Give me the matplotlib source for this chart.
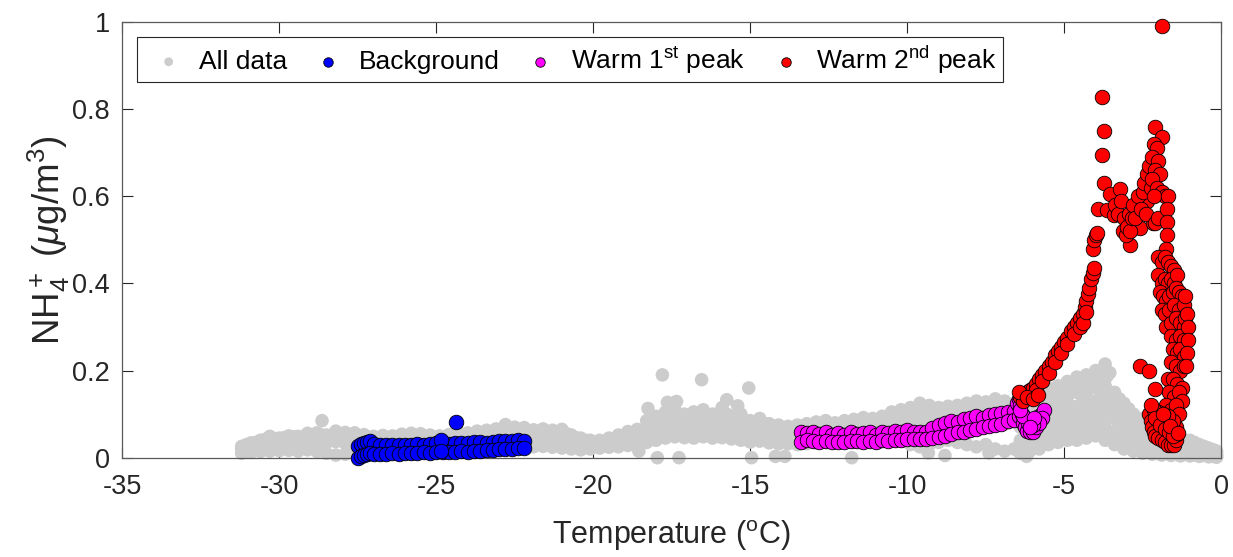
import numpy as np
import matplotlib.pyplot as plt

plt.rcParams['font.family'] = ['Liberation Sans', 'DejaVu Sans']
plt.rcParams['mathtext.fontset'] = 'custom'
plt.rcParams['mathtext.rm'] = 'Liberation Sans'
plt.rcParams['mathtext.it'] = 'Liberation Sans:italic'
plt.rcParams['mathtext.bf'] = 'Liberation Sans:bold'
plt.rcParams['axes.unicode_minus'] = False

# ---- All data (gray cloud) ----
# cold part, -31 .. -20 C
cold_t = [-31.2, -30.9, -30.6, -30.3, -30.0, -29.7, -29.4, -29.1, -28.8, -28.5,
          -28.2, -27.9, -27.6, -27.3, -27.0, -26.7, -26.4, -26.1, -25.8, -25.5,
          -25.2, -24.9, -24.6, -24.3, -24.0, -23.7, -23.4, -23.1, -22.8, -22.5,
          -22.2, -21.9, -21.6, -21.3, -21.0, -20.7, -20.4, -20.1]
cold_hi = [0.026, 0.034, 0.040, 0.049, 0.045, 0.050, 0.049, 0.056, 0.057, 0.052,
           0.061, 0.058, 0.057, 0.053, 0.049, 0.051, 0.050, 0.054, 0.056, 0.055,
           0.052, 0.050, 0.053, 0.058, 0.057, 0.061, 0.063, 0.066, 0.076, 0.070,
           0.069, 0.064, 0.066, 0.063, 0.065, 0.052, 0.045, 0.040]
cold_mid = [0.020, 0.025, 0.028, 0.030, 0.032, 0.033, 0.035, 0.036, 0.038, 0.034,
            0.037, 0.033, 0.030, 0.028, 0.030, 0.032, 0.030, 0.033, 0.034, 0.035,
            0.036, 0.034, 0.036, 0.038, 0.040, 0.042, 0.043, 0.045, 0.048, 0.046,
            0.045, 0.043, 0.044, 0.041, 0.040, 0.036, 0.033, 0.030]
cold_lo = [0.010, 0.012, 0.014, 0.015, 0.016, 0.017, 0.015, 0.018, 0.014, 0.010,
           0.006, 0.008, 0.012, 0.014, 0.012, 0.015, 0.016, 0.014, 0.015, 0.017,
           0.018, 0.017, 0.019, 0.020, 0.022, 0.024, 0.025, 0.026, 0.027, 0.026,
           0.028, 0.025, 0.026, 0.024, 0.022, 0.020, 0.018, 0.020]
cold2_t = [-31.05, -30.75, -30.45, -30.15, -29.85, -29.55, -29.25, -28.95, -28.65,
           -28.35, -28.05, -27.75, -27.45, -27.15, -26.85, -26.55, -26.25, -25.95,
           -25.65, -25.35, -25.05, -24.75, -24.45, -24.15, -23.85, -23.55, -23.25,
           -22.95, -22.65, -22.35, -22.05, -21.75, -21.45, -21.15, -20.85, -20.55, -20.25]
cold2_y = [0.030, 0.035, 0.042, 0.044, 0.046, 0.048, 0.045, 0.050, 0.052, 0.048,
           0.054, 0.050, 0.046, 0.044, 0.045, 0.046, 0.044, 0.047, 0.048, 0.046,
           0.045, 0.044, 0.046, 0.050, 0.052, 0.054, 0.056, 0.060, 0.065, 0.060,
           0.058, 0.056, 0.057, 0.054, 0.055, 0.046, 0.040]

# bump, -20 .. -14 C
bump_t = [-19.8, -19.5, -19.2, -18.9, -18.6, -18.3, -18.0, -17.7, -17.4, -17.1,
          -16.8, -16.5, -16.2, -15.9, -15.6, -15.3, -15.0, -14.7, -14.4, -14.1, -13.8]
bump_hi = [0.040, 0.045, 0.052, 0.060, 0.065, 0.085, 0.095, 0.105, 0.110, 0.100,
           0.105, 0.110, 0.100, 0.115, 0.095, 0.100, 0.085, 0.090, 0.078, 0.075, 0.072]
bump_mid = [0.032, 0.034, 0.038, 0.042, 0.048, 0.060, 0.068, 0.078, 0.080, 0.075,
            0.078, 0.080, 0.072, 0.078, 0.070, 0.068, 0.062, 0.064, 0.058, 0.055, 0.052]
bump_lo = [0.022, 0.024, 0.025, 0.028, 0.030, 0.035, 0.040, 0.045, 0.048, 0.046,
           0.045, 0.048, 0.045, 0.046, 0.043, 0.040, 0.036, 0.038, 0.034, 0.032, 0.032]
bump2_t = [-19.65, -19.35, -19.05, -18.75, -18.45, -18.15, -17.85, -17.55, -17.25, -16.95,
           -16.65, -16.35, -16.05, -15.75, -15.45, -15.15, -14.85, -14.55, -14.25, -13.95]
bump2_a = [0.028, 0.038, 0.045, 0.050, 0.058, 0.072, 0.088, 0.092, 0.095, 0.088,
           0.090, 0.095, 0.088, 0.100, 0.082, 0.085, 0.075, 0.078, 0.068, 0.062]
bump2_b = [0.036, 0.030, 0.032, 0.036, 0.040, 0.050, 0.052, 0.060, 0.062, 0.058,
           0.060, 0.062, 0.058, 0.060, 0.056, 0.052, 0.048, 0.050, 0.044, 0.040]

# warm band, -13.5 .. -6.6 C
band_t = [-13.5, -13.2, -12.9, -12.6, -12.3, -12.0, -11.7, -11.4, -11.1, -10.8,
          -10.5, -10.2, -9.9, -9.6, -9.3, -9.0, -8.7, -8.4, -8.1, -7.8,
          -7.5, -7.2, -6.9, -6.6]
band_hi = [0.075, 0.078, 0.082, 0.085, 0.080, 0.085, 0.088, 0.092, 0.090, 0.095,
           0.105, 0.110, 0.115, 0.125, 0.120, 0.115, 0.118, 0.120, 0.125, 0.130,
           0.128, 0.135, 0.130, 0.125]
band_mid = [0.050, 0.052, 0.055, 0.056, 0.055, 0.058, 0.060, 0.062, 0.063, 0.066,
            0.070, 0.075, 0.080, 0.082, 0.085, 0.088, 0.090, 0.092, 0.095, 0.098,
            0.100, 0.102, 0.104, 0.100]
band_lo = [0.030, 0.032, 0.034, 0.035, 0.034, 0.036, 0.035, 0.038, 0.040, 0.038,
           0.040, 0.042, 0.030, 0.025, 0.030, 0.035, 0.040, 0.035, 0.030, 0.025,
           0.030, 0.020, 0.015, 0.020]
band2_t = [-13.35, -13.05, -12.75, -12.45, -12.15, -11.85, -11.55, -11.25, -10.95, -10.65,
           -10.35, -10.05, -9.75, -9.45, -9.15, -8.85, -8.55, -8.25, -7.95, -7.65,
           -7.35, -7.05, -6.75]
band2_a = [0.065, 0.068, 0.070, 0.072, 0.070, 0.074, 0.076, 0.078, 0.080, 0.085,
           0.090, 0.095, 0.100, 0.105, 0.105, 0.108, 0.110, 0.112, 0.115, 0.118,
           0.120, 0.122, 0.115]
band2_b = [0.040, 0.042, 0.044, 0.046, 0.045, 0.048, 0.048, 0.050, 0.052, 0.055,
           0.058, 0.060, 0.062, 0.065, 0.068, 0.070, 0.072, 0.075, 0.078, 0.080,
           0.082, 0.085, 0.080]

# warmest part, -6.4 .. 0 C
hot_t = [-6.4, -6.1, -5.8, -5.5, -5.2, -4.9, -4.6, -4.3, -4.0, -3.7,
         -3.4, -3.1, -2.8, -2.5, -2.2, -1.9, -1.6, -1.3, -1.0, -0.7, -0.4, -0.15]
hot_top = [0.120, 0.135, 0.150, 0.160, 0.165, 0.175, 0.185, 0.190, 0.200, 0.215,
           0.150, 0.125, 0.100, 0.090, 0.080, 0.060, 0.050, 0.045, 0.040, 0.030, 0.022, 0.015]
hot_um = [0.095, 0.110, 0.120, 0.125, 0.130, 0.140, 0.150, 0.150, 0.160, 0.165,
          0.120, 0.100, 0.080, 0.070, 0.060, 0.045, 0.040, 0.035, 0.030, 0.022, 0.015, 0.010]
hot_mid = [0.070, 0.080, 0.085, 0.090, 0.095, 0.100, 0.105, 0.110, 0.115, 0.120,
           0.090, 0.075, 0.060, 0.050, 0.040, 0.030, 0.025, 0.022, 0.020, 0.015, 0.010, 0.005]
hot_lm = [0.040, 0.050, 0.055, 0.060, 0.060, 0.065, 0.070, 0.075, 0.080, 0.070,
          0.060, 0.050, 0.040, 0.030, 0.025, 0.020, 0.015, 0.012, 0.010, 0.008, 0.006, 0.003]
hot_lo = [0.010, 0.015, 0.020, 0.030, 0.035, 0.040, 0.040, 0.045, 0.050, 0.040,
          0.030, 0.020, 0.015, 0.010, 0.008, 0.006, 0.005, 0.004, 0.004, 0.003, 0.002, 0.001]
hot2_t = [-6.25, -5.95, -5.65, -5.35, -5.05, -4.75, -4.45, -4.15, -3.85, -3.55,
          -3.25, -2.95, -2.65, -2.35, -2.05, -1.75, -1.45, -1.15, -0.85, -0.55, -0.25]
hot2_a = [0.108, 0.122, 0.135, 0.142, 0.150, 0.158, 0.168, 0.172, 0.185, 0.195,
          0.135, 0.112, 0.090, 0.080, 0.070, 0.052, 0.045, 0.040, 0.035, 0.026, 0.018]
hot2_b = [0.082, 0.092, 0.100, 0.108, 0.112, 0.118, 0.125, 0.130, 0.138, 0.142,
          0.105, 0.088, 0.070, 0.060, 0.050, 0.038, 0.032, 0.028, 0.025, 0.018, 0.012]
hot2_c = [0.055, 0.065, 0.070, 0.075, 0.078, 0.082, 0.088, 0.092, 0.098, 0.095,
          0.075, 0.062, 0.050, 0.040, 0.032, 0.025, 0.020, 0.016, 0.014, 0.010, 0.008]
hot2_d = [0.025, 0.030, 0.038, 0.045, 0.048, 0.052, 0.055, 0.060, 0.065, 0.055,
          0.045, 0.035, 0.028, 0.020, 0.016, 0.012, 0.010, 0.008, 0.006, 0.005, 0.003]

# scattered gray points
odd_t = [-28.64, -17.80, -16.55, -15.05, -15.75, -18.26, -17.35, -17.64, -15.40,
         -17.96, -17.27, -14.96, -14.20, -13.90, -11.77, -18.55,
         -9.33, -8.15, -7.40, -6.20, -8.80, -3.65, -3.70, -3.90]
odd_y = [0.085, 0.190, 0.179, 0.160, 0.133, 0.113, 0.129, 0.127, 0.119,
         0.000, 0.000, 0.000, 0.003, 0.003, 0.000, 0.015,
         0.011, 0.034, 0.011, 0.003, 0.005, 0.186, 0.161, 0.190]

# ---- Background ----
bg_t = [-27.5, -27.4, -27.3, -27.2, -27.1, -27.0, -26.8, -26.6, -26.4, -26.2,
        -26.0, -25.8, -25.6, -25.4, -25.2, -25.0, -24.8, -24.6, -24.4, -24.2,
        -24.0, -23.8, -23.6, -23.4, -23.2, -23.0, -22.8, -22.6, -22.4, -22.2]
bg_hi = [0.026, 0.031, 0.034, 0.036, 0.038, 0.032, 0.030, 0.028, 0.028, 0.030,
         0.028, 0.030, 0.032, 0.030, 0.032, 0.034, 0.034, 0.032, 0.034, 0.033,
         0.034, 0.036, 0.036, 0.034, 0.036, 0.038, 0.038, 0.039, 0.040, 0.038]
bg_lo = [0.000, 0.004, 0.006, 0.008, 0.010, 0.008, 0.008, 0.009, 0.010, 0.008,
         0.010, 0.011, 0.010, 0.012, 0.011, 0.012, 0.013, 0.014, 0.013, 0.015,
         0.014, 0.016, 0.016, 0.017, 0.018, 0.019, 0.020, 0.020, 0.022, 0.023]
bg_odd_t = [-24.38, -24.85, -24.85]
bg_odd_y = [0.082, 0.040, 0.015]

# ---- Warm 1st peak ----
w1_t = [-13.4, -13.2, -13.0, -12.8, -12.6, -12.4, -12.2, -12.0, -11.8, -11.6,
        -11.4, -11.2, -11.0, -10.8, -10.6, -10.4, -10.2, -10.0, -9.8, -9.6,
        -9.4, -9.2, -9.0, -8.8, -8.6, -8.4, -8.2, -8.0, -7.8, -7.6,
        -7.4, -7.2, -7.0, -6.8, -6.6, -6.45]
w1_a = [0.060, 0.056, 0.058, 0.054, 0.058, 0.053, 0.056, 0.052, 0.058, 0.054,
        0.056, 0.058, 0.053, 0.060, 0.056, 0.062, 0.058, 0.064, 0.060, 0.058,
        0.060, 0.068, 0.075, 0.080, 0.084, 0.082, 0.088, 0.090, 0.095, 0.092,
        0.098, 0.100, 0.102, 0.105, 0.108, 0.118]
w1_b = [0.036, 0.040, 0.038, 0.036, 0.038, 0.036, 0.037, 0.036, 0.038, 0.039,
        0.036, 0.038, 0.036, 0.040, 0.038, 0.040, 0.041, 0.042, 0.043, 0.042,
        0.044, 0.046, 0.048, 0.050, 0.054, 0.058, 0.060, 0.063, 0.066, 0.070,
        0.073, 0.076, 0.078, 0.084, 0.086, 0.095]
curl_t = [-6.5, -6.45, -6.4, -6.35, -6.3, -6.25, -6.2, -6.1, -6.0, -5.9, -5.85, -5.8,
          -5.7, -5.65, -5.7, -5.8, -6.0, -6.15, -6.3, -6.4, -5.95, -6.1]
curl_y = [0.125, 0.135, 0.120, 0.100, 0.080, 0.070, 0.062, 0.058, 0.060, 0.070, 0.085,
          0.095, 0.100, 0.110, 0.090, 0.080, 0.075, 0.080, 0.095, 0.110, 0.090, 0.070]

# ---- Warm 2nd peak ----
rise_t = [-6.4, -6.3, -6.2, -6.1, -6.0, -5.9, -5.8, -5.7, -5.6, -5.5, -5.4, -5.3,
          -5.2, -5.1, -5.0, -4.9, -4.8, -4.7, -4.6, -4.5, -4.4, -4.35, -4.3, -4.25,
          -4.2, -4.15, -4.1, -4.05, -4.1, -4.05, -4.0, -3.95,
          -6.3, -6.1, -5.9, -5.7, -5.5, -5.3, -5.1, -4.9, -4.7, -4.5, -4.4, -4.3,
          -6.45, -6.2, -6.0, -5.85]
rise_y = [0.140, 0.145, 0.150, 0.155, 0.160, 0.170, 0.180, 0.190, 0.200, 0.210,
          0.220, 0.235, 0.245, 0.255, 0.265, 0.275, 0.290, 0.300, 0.310, 0.320,
          0.330, 0.345, 0.360, 0.375, 0.390, 0.410, 0.425, 0.435, 0.480, 0.500,
          0.510, 0.515,
          0.130, 0.140, 0.155, 0.175, 0.195, 0.220, 0.240, 0.260, 0.285, 0.300,
          0.310, 0.335,
          0.150, 0.140, 0.135, 0.145]
top_t = [-3.80, -3.72, -3.80, -3.72, -3.93, -1.89]
top_y = [0.828, 0.750, 0.695, 0.630, 0.570, 0.990]
plat_t = [-3.64, -3.42, -3.53, -3.22, -2.92, -3.13, -2.70, -2.60, -2.38, -2.17,
          -3.40, -3.30, -3.20, -3.10, -3.05, -3.00, -2.95, -2.90, -2.85, -2.80,
          -2.75, -2.65, -2.55, -2.50, -2.45, -2.40, -2.35, -2.30, -2.25,
          -2.10, -1.90, -2.15, -2.05, -2.20, -2.00, -2.10, -1.95, -2.20, -2.05,
          -1.90, -1.80, -2.15, -2.12, -2.00]
plat_y = [0.568, 0.557, 0.605, 0.616, 0.489, 0.520, 0.574, 0.528, 0.590, 0.539,
          0.580, 0.560, 0.590, 0.550, 0.510, 0.530, 0.560, 0.520, 0.550, 0.580,
          0.550, 0.600, 0.570, 0.610, 0.630, 0.560, 0.650, 0.670, 0.620,
          0.760, 0.735, 0.720, 0.710, 0.690, 0.680, 0.660, 0.650, 0.640, 0.620,
          0.610, 0.600, 0.600, 0.539, 0.550]
col_t = [-1.70, -1.72, -1.74, -1.72, -1.75,
         -2.00, -1.90, -1.80, -1.70, -1.60, -1.50, -2.00, -1.90, -1.80, -1.70,
         -1.60, -1.50, -1.40, -1.95, -1.85, -1.75, -1.65, -1.55, -1.45, -1.35,
         -1.25, -1.90, -1.80, -1.65, -1.50, -1.35, -1.20, -1.15, -1.75, -1.60,
         -1.45, -1.30, -1.20, -1.15, -1.60, -1.45, -1.30, -1.20, -1.55, -1.40,
         -1.30, -1.20, -1.60, -1.45, -1.30, -1.20, -1.70, -1.55, -1.40, -1.25,
         -1.65, -1.50, -1.35, -1.25, -1.75, -1.60, -1.45, -1.35,
         -1.08, -1.05, -1.07, -1.10, -1.12]
col_y = [0.600, 0.570, 0.540, 0.510, 0.480,
         0.460, 0.450, 0.460, 0.450, 0.440, 0.430, 0.420, 0.400, 0.410, 0.400,
         0.410, 0.400, 0.420, 0.380, 0.370, 0.360, 0.370, 0.380, 0.390, 0.380,
         0.370, 0.340, 0.330, 0.340, 0.350, 0.340, 0.350, 0.370, 0.300, 0.310,
         0.320, 0.310, 0.300, 0.320, 0.280, 0.270, 0.280, 0.270, 0.250, 0.240,
         0.250, 0.230, 0.220, 0.210, 0.200, 0.210, 0.180, 0.180, 0.170, 0.160,
         0.150, 0.140, 0.150, 0.130, 0.120, 0.110, 0.120, 0.100,
         0.330, 0.300, 0.270, 0.240, 0.210]
loop_t = [-2.30, -2.25, -2.20, -2.15, -2.10, -2.00, -1.90, -1.80, -1.70, -1.60,
          -1.50, -1.45, -1.40, -1.45, -1.55, -1.70, -1.85, -2.00, -2.15, -2.25,
          -2.10, -1.95, -1.80, -1.65, -1.55, -2.12, -1.85, -1.64, -1.37,
          -2.60, -2.30]
loop_y = [0.100, 0.085, 0.070, 0.060, 0.050, 0.045, 0.040, 0.035, 0.030, 0.028,
          0.030, 0.040, 0.055, 0.070, 0.085, 0.095, 0.100, 0.105, 0.110, 0.120,
          0.090, 0.075, 0.065, 0.060, 0.050, 0.157, 0.100, 0.072, 0.057,
          0.211, 0.198]

# ---- assemble ----
all_t = np.concatenate([cold_t * 3, cold2_t, bump_t * 3, bump2_t * 2,
                        band_t * 3, band2_t * 2, hot_t * 5, hot2_t * 4, odd_t])
all_y = np.concatenate([cold_hi, cold_mid, cold_lo, cold2_y,
                        bump_hi, bump_mid, bump_lo, bump2_a, bump2_b,
                        band_hi, band_mid, band_lo, band2_a, band2_b,
                        hot_top, hot_um, hot_mid, hot_lm, hot_lo,
                        hot2_a, hot2_b, hot2_c, hot2_d, odd_y])
bg_x = np.concatenate([bg_t, bg_t, bg_odd_t])
bg_v = np.concatenate([bg_hi, bg_lo, bg_odd_y])
w1_x = np.concatenate([w1_t, w1_t, curl_t])
w1_v = np.concatenate([w1_a, w1_b, curl_y])
w2_x = np.concatenate([rise_t, top_t, plat_t, col_t, loop_t])
w2_v = np.concatenate([rise_y, top_y, plat_y, col_y, loop_y])

fig = plt.figure(figsize=(12.33, 5.57), dpi=100)
ax = fig.add_axes([0.0992, 0.1783, 0.8913, 0.7822])

# MATLAB does not clip markers whose centres are inside the axes
ax.scatter(all_t, all_y, s=95, c='#cccccc', edgecolors='none', label='All data',
           zorder=2, clip_on=False)
ax.scatter(bg_x, bg_v, s=110, c='#0000ff', edgecolors='k', linewidths=0.6,
           label='Background', zorder=3, clip_on=False)
ax.scatter(w1_x, w1_v, s=110, c='#ff00ff', edgecolors='k', linewidths=0.6,
           label=r'Warm 1$^{\mathrm{st}}$ peak', zorder=4, clip_on=False)
ax.scatter(w2_x, w2_v, s=110, c='#ff0000', edgecolors='k', linewidths=0.6,
           label=r'Warm 2$^{\mathrm{nd}}$ peak', zorder=5, clip_on=False)

ax.set_xlim(-35, 0)
ax.set_ylim(0, 1)
ax.set_xticks(np.arange(-35, 1, 5))
ax.set_xticklabels([str(v) for v in range(-35, 1, 5)])
ax.set_yticks([0, 0.2, 0.4, 0.6, 0.8, 1])
ax.set_yticklabels(['0', '0.2', '0.4', '0.6', '0.8', '1'])
ax.tick_params(direction='in', length=8, width=0.8, top=True, right=True,
               labelsize=19.5, colors='#262626')
ax.tick_params(axis='x', pad=12)
ax.tick_params(axis='y', pad=9)
for sp in ax.spines.values():
    sp.set_color('#5a5a5a')
    sp.set_linewidth(0.9)

ax.set_xlabel(r'Temperature ($^{\mathrm{o}}$C)', fontsize=22, color='#262626', labelpad=13)
ax.set_ylabel(r'NH$_4^+$ ($\mu$g/m$^3$)', fontsize=26.5, color='#262626', labelpad=0)

leg = ax.legend(loc='upper left', bbox_to_anchor=(137 / 1233, 1 - 37 / 557),
                bbox_transform=fig.transFigure, ncol=4, fontsize=19,
                frameon=True, fancybox=False, edgecolor='#262626', framealpha=1,
                borderpad=0.25, handlelength=1.9, handletextpad=0.2,
                columnspacing=0.6, markerscale=0.65, borderaxespad=0)
leg.get_frame().set_linewidth(0.8)
leg.set_zorder(10)

fig.savefig('out.png', dpi=100)
